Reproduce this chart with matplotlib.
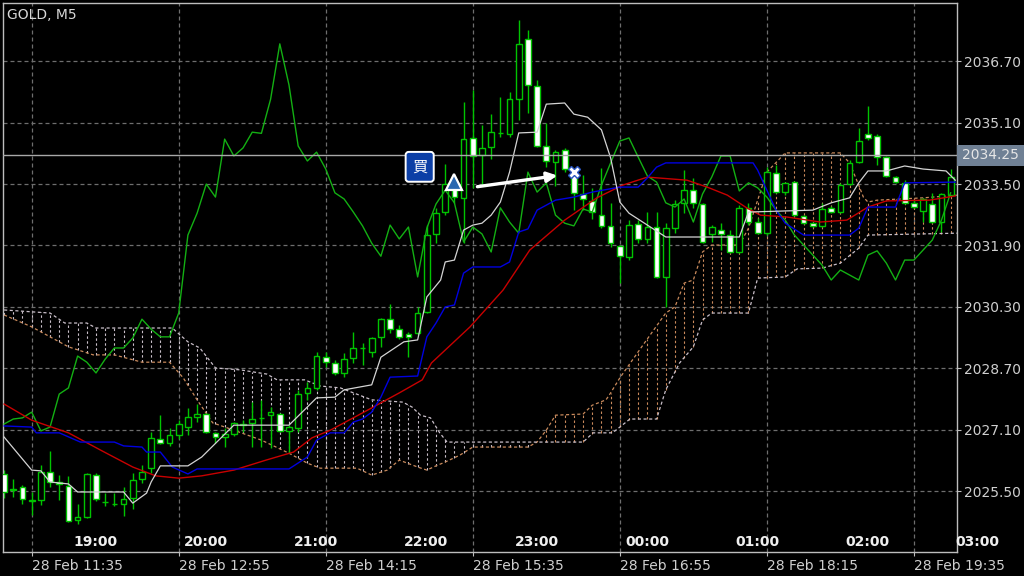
import numpy as np
import matplotlib
matplotlib.use("Agg")
import matplotlib.pyplot as plt
import matplotlib.transforms as mtransforms
from matplotlib.patches import Rectangle

# GOLD M5 candles, 28 Feb 11:20 .. 19:55 (server time), one entry per bar
opens = [2025.95, 2025.53, 2025.61, 2025.24, 2025.27, 2026.00, 2025.73, 2025.64, 2024.75, 2024.83,
         2025.92, 2025.23, 2025.16, 2025.17, 2025.32, 2025.82, 2026.10, 2026.86, 2026.76, 2026.96,
         2027.17, 2027.43, 2027.51, 2027.02, 2026.91, 2026.99, 2027.22, 2027.28, 2027.40, 2027.48,
         2027.51, 2027.07, 2027.15, 2028.06, 2028.19, 2028.99, 2028.84, 2028.58, 2028.97, 2029.22,
         2029.13, 2029.52, 2029.98, 2029.72, 2029.59, 2029.62, 2030.17, 2032.20, 2032.77, 2033.40,
         2033.14, 2034.70, 2034.26, 2034.46, 2034.84, 2034.80, 2035.71, 2037.28, 2036.05, 2034.49,
         2034.07, 2034.39, 2033.73, 2033.24, 2033.06, 2032.69, 2032.41, 2031.89, 2031.60, 2032.46,
         2032.07, 2032.38, 2031.08, 2032.35, 2033.01, 2033.34, 2032.98, 2032.20, 2032.30, 2032.17,
         2031.73, 2032.88, 2032.51, 2032.22, 2033.79, 2033.29, 2033.55, 2032.67, 2032.48, 2032.41,
         2032.88, 2032.77, 2033.50, 2034.07, 2034.80, 2034.75, 2034.20, 2033.68, 2033.53, 2033.01,
         2032.80, 2032.98, 2032.51, 2033.21]
highs = [2026.05, 2025.82, 2025.66, 2025.48, 2026.18, 2026.55, 2025.92, 2025.90, 2025.17, 2025.97,
         2025.97, 2025.45, 2025.45, 2025.61, 2025.97, 2026.18, 2027.04, 2027.48, 2027.15, 2027.35,
         2027.67, 2027.77, 2027.54, 2027.04, 2027.15, 2027.30, 2027.35, 2027.82, 2027.88, 2027.69,
         2027.54, 2027.22, 2028.14, 2028.34, 2029.13, 2029.13, 2028.92, 2029.10, 2029.65, 2029.36,
         2029.52, 2030.01, 2030.38, 2029.83, 2029.65, 2030.30, 2032.43, 2032.88, 2034.02, 2033.47,
         2035.64, 2035.95, 2035.04, 2035.32, 2035.77, 2035.90, 2037.77, 2037.51, 2036.21, 2035.09,
         2034.39, 2034.44, 2033.86, 2033.73, 2033.40, 2033.92, 2033.01, 2031.91, 2032.56, 2032.56,
         2032.77, 2032.77, 2032.48, 2033.08, 2033.86, 2033.66, 2033.01, 2032.43, 2032.48, 2032.30,
         2032.95, 2033.01, 2032.61, 2033.94, 2034.00, 2033.55, 2033.58, 2032.69, 2032.51, 2033.01,
         2032.93, 2033.53, 2034.13, 2034.96, 2035.53, 2034.80, 2034.23, 2033.71, 2033.60, 2033.08,
         2033.14, 2033.27, 2033.27, 2033.89]
lows = [2025.32, 2025.35, 2025.17, 2024.88, 2025.14, 2025.61, 2025.27, 2024.70, 2024.65, 2024.80,
        2025.24, 2025.11, 2025.11, 2024.85, 2025.04, 2025.71, 2025.97, 2026.73, 2026.68, 2026.86,
        2026.96, 2027.30, 2027.02, 2026.76, 2026.65, 2026.94, 2027.04, 2026.65, 2026.65, 2026.62,
        2027.04, 2026.49, 2027.04, 2027.88, 2028.14, 2028.73, 2028.53, 2028.47, 2028.84, 2028.79,
        2028.99, 2029.26, 2029.62, 2029.46, 2028.99, 2029.57, 2030.14, 2031.96, 2032.69, 2033.01,
        2031.96, 2033.40, 2033.47, 2034.15, 2034.72, 2034.72, 2035.17, 2035.35, 2034.46, 2033.94,
        2033.45, 2033.81, 2032.82, 2032.82, 2032.59, 2032.35, 2031.86, 2030.92, 2031.52, 2031.96,
        2031.96, 2031.05, 2030.30, 2032.22, 2032.74, 2032.88, 2031.96, 2031.99, 2031.78, 2031.70,
        2031.70, 2032.43, 2032.20, 2032.17, 2033.27, 2033.21, 2032.67, 2032.46, 2032.38, 2032.38,
        2032.74, 2032.74, 2033.47, 2034.05, 2034.65, 2034.00, 2033.68, 2033.53, 2032.99, 2032.88,
        2032.51, 2032.48, 2032.25, 2033.19]
closes = [2025.48, 2025.56, 2025.30, 2025.27, 2026.00, 2025.74, 2025.69, 2024.72, 2024.83, 2025.95,
          2025.30, 2025.21, 2025.18, 2025.30, 2025.79, 2026.00, 2026.89, 2026.76, 2026.96, 2027.25,
          2027.43, 2027.51, 2027.04, 2026.91, 2026.99, 2027.28, 2027.25, 2027.38, 2027.41, 2027.56,
          2027.07, 2027.17, 2028.03, 2028.19, 2029.02, 2028.86, 2028.58, 2028.94, 2029.23, 2029.23,
          2029.49, 2029.98, 2029.72, 2029.52, 2029.52, 2030.14, 2032.17, 2032.74, 2033.50, 2033.16,
          2034.67, 2034.23, 2034.44, 2034.85, 2034.82, 2035.71, 2037.15, 2036.08, 2034.49, 2034.10,
          2034.33, 2033.89, 2033.27, 2033.11, 2032.77, 2032.41, 2031.96, 2031.62, 2032.43, 2032.07,
          2032.38, 2031.08, 2032.35, 2032.98, 2033.34, 2033.01, 2031.99, 2032.38, 2032.20, 2031.73,
          2032.88, 2032.51, 2032.22, 2033.81, 2033.29, 2033.53, 2032.69, 2032.48, 2032.41, 2032.85,
          2032.77, 2033.47, 2034.05, 2034.62, 2034.70, 2034.20, 2033.71, 2033.55, 2033.01, 2032.90,
          2033.11, 2032.51, 2033.24, 2033.68]

# chikou span = close 26 bars later; the last 26 come from bars right of the window
chikou_tail = [2034.23, 2034.23, 2033.32, 2033.53, 2033.40, 2033.16, 2032.82, 2032.56, 2032.17, 2031.91,
               2031.65, 2031.39, 2031.00, 2031.26, 2031.13, 2031.00, 2031.65, 2031.76, 2031.44, 2031.00,
               2031.52, 2031.52, 2031.78, 2032.04, 2032.56, 2033.27]

# tenkan (white)
tenkan_bars = [0, 3, 4, 5, 7, 8, 13, 14, 15.5, 16, 17, 20, 21.5, 25, 31, 34, 36, 37, 40, 41, 43.5, 45,
               46, 47.5, 48, 49, 50, 51, 52, 53, 54, 55, 56, 58, 59, 61, 62, 63.5, 65, 66, 67, 68, 70,
               72, 80, 81, 88, 90, 92, 93, 94, 96, 98, 100, 102.5, 103.5]
tenkan_vals = [2026.91, 2026.05, 2026.03, 2025.74, 2025.69, 2025.48, 2025.48, 2025.19, 2025.45, 2025.74,
               2026.16, 2026.16, 2026.39, 2027.22, 2027.22, 2027.93, 2027.95, 2028.14, 2028.27, 2028.99,
               2029.39, 2029.44, 2030.56, 2031.00, 2031.47, 2031.52, 2032.30, 2032.43, 2032.48, 2032.69,
               2033.03, 2033.81, 2034.83, 2034.85, 2035.58, 2035.61, 2035.32, 2035.24, 2034.91, 2034.18,
               2033.03, 2032.74, 2032.43, 2032.12, 2032.12, 2032.77, 2032.82, 2033.01, 2033.14, 2033.53,
               2033.84, 2033.84, 2033.97, 2033.89, 2033.84, 2033.60]

# kijun (blue)
kijun_bars = [0, 3, 3.5, 6, 8.3, 12, 13, 15, 15.5, 17, 18.3, 20, 21, 31, 33, 34, 35.5, 37, 38, 39, 40,
              41, 42, 45, 46, 47, 48, 49, 50, 51, 54, 55, 56, 57, 58, 60, 62, 64, 67, 69, 70, 71, 72,
              81.5, 82, 83, 84, 85, 87, 92, 93, 94, 97, 98, 103.5]
kijun_vals = [2027.20, 2027.17, 2027.02, 2027.02, 2026.78, 2026.78, 2026.68, 2026.65, 2026.52, 2026.52,
              2026.13, 2025.95, 2026.08, 2026.08, 2026.39, 2026.83, 2027.02, 2027.02, 2027.30, 2027.38,
              2027.56, 2027.95, 2028.47, 2028.50, 2029.52, 2029.88, 2030.30, 2030.35, 2031.18, 2031.34,
              2031.34, 2031.47, 2032.25, 2032.33, 2032.82, 2033.08, 2033.16, 2033.29, 2033.42, 2033.42,
              2033.66, 2033.94, 2034.05, 2034.05, 2033.86, 2033.34, 2032.82, 2032.48, 2032.17, 2032.17,
              2032.35, 2032.90, 2032.90, 2033.53, 2033.55]

# moving average (red)
ma_bars = [0, 3, 7, 10.5, 14, 16.5, 19, 21.5, 25, 28.5, 31.5, 33.5, 35.5, 39, 43, 45.5, 46.5, 50.7,
           54.3, 57.2, 61, 64.5, 67.3, 70, 74.3, 76.5, 78.7, 80.8, 82.3, 85.2, 88.8, 91.7, 94, 96,
           100.7, 103.5]
ma_vals = [2027.77, 2027.35, 2027.02, 2026.57, 2026.13, 2025.90, 2025.84, 2025.90, 2026.05, 2026.31,
           2026.52, 2026.89, 2027.09, 2027.54, 2028.06, 2028.40, 2028.84, 2029.78, 2030.74, 2031.78,
           2032.56, 2033.14, 2033.47, 2033.68, 2033.60, 2033.42, 2033.21, 2032.88, 2032.69, 2032.64,
           2032.51, 2032.56, 2032.90, 2033.06, 2033.08, 2033.19]

# senkou span A (sandy brown) and span B (thistle)
span_a_bars = [0, 3, 5, 7, 9.7, 12, 15, 18, 19.5, 21, 22.7, 25, 28, 31, 33, 34.4, 38.4, 40, 41.7, 43,
               45, 46, 47, 48, 49.6, 51, 57, 58, 59, 60, 63, 64, 65.5, 66, 67, 69.5, 72, 73, 74, 75,
               76, 77, 80, 81, 82, 83, 85, 91, 92, 93, 93.5, 94, 95, 100, 103.7]
span_a_vals = [2030.09, 2029.78, 2029.52, 2029.26, 2029.05, 2029.05, 2028.86, 2028.86, 2028.45, 2027.88,
               2027.28, 2027.09, 2026.83, 2026.49, 2026.23, 2026.10, 2026.10, 2025.92, 2026.05, 2026.31,
               2026.13, 2026.05, 2026.16, 2026.26, 2026.44, 2026.65, 2026.65, 2026.78, 2027.09, 2027.48,
               2027.51, 2027.74, 2027.88, 2028.06, 2028.45, 2029.30, 2030.14, 2030.30, 2030.92, 2031.00,
               2031.73, 2031.91, 2031.91, 2032.35, 2033.08, 2033.81, 2034.31, 2034.31, 2034.05, 2033.47,
               2033.16, 2033.03, 2033.08, 2033.14, 2033.21]
span_b_bars = [0, 5, 6.6, 9, 10, 18.3, 20, 21.3, 23, 25.7, 28.6, 29.7, 32.7, 34.4, 36.6, 40, 43.4, 44.4,
               45.3, 46.4, 47.4, 48.2, 63, 64.1, 66.2, 67, 68.1, 71, 72, 73.5, 75, 76, 77, 81, 82, 85,
               86.3, 89, 91, 93, 94, 103.7]
span_b_vals = [2030.22, 2030.14, 2029.88, 2029.88, 2029.75, 2029.75, 2029.39, 2029.23, 2028.71, 2028.66,
               2028.55, 2028.40, 2028.40, 2028.24, 2028.19, 2027.88, 2027.82, 2027.69, 2027.48, 2027.41,
               2027.02, 2026.78, 2026.78, 2027.02, 2027.02, 2027.17, 2027.38, 2027.38, 2028.14, 2028.84,
               2029.26, 2029.96, 2030.14, 2030.14, 2031.05, 2031.08, 2031.29, 2031.31, 2031.44, 2031.83,
               2032.17, 2032.22]

# axis labels
price_ticks = [2036.70, 2035.10, 2033.50, 2031.90, 2030.30, 2028.70, 2027.10, 2025.50]
date_bars = [3, 19, 35, 51, 67, 83, 99]
date_labels = ["28 Feb 11:35", "28 Feb 12:55", "28 Feb 14:15", "28 Feb 15:35",
               "28 Feb 16:55", "28 Feb 18:15", "28 Feb 19:35"]
local_bars = [8, 20, 32, 44, 56, 68, 80, 92, 104]
local_labels = ["19:00", "20:00", "21:00", "22:00", "23:00", "00:00", "01:00", "02:00", "03:00"]

bid_price = 2034.25
entry_bar, entry_price = 49, 2033.55
exit_bar, exit_price = 62, 2033.81

o = np.array(opens); h = np.array(highs); l = np.array(lows); c = np.array(closes)
x = np.arange(len(c))
chikou = np.concatenate([c[26:], chikou_tail])

green = "#00c400"
brown = "#c98a5c"
thistle = "#c9bfc9"
txt = "#cfcfcf"

fig = plt.figure(figsize=(10.24, 5.76), dpi=100, facecolor="black")
ax = fig.add_axes([3 / 1024, 24 / 576, 954 / 1024, 549 / 576])
ax.set_facecolor("black")
ax.set_xlim(-0.12, 103.69)
ax.set_ylim(2023.917, 2038.214)

# grid
for p in price_ticks:
    ax.axhline(p, color="#6e6e6e", lw=0.9, ls=(0, (3.2, 2.4)), zorder=0)
for b in date_bars:
    ax.axvline(b, color="#6e6e6e", lw=0.9, ls=(0, (3.2, 2.4)), zorder=0)

# kumo hatching
sa = np.interp(x, span_a_bars, span_a_vals)
sb = np.interp(x, span_b_bars, span_b_vals)
hatch_cols = [brown if a >= b else thistle for a, b in zip(sa, sb)]
ax.vlines(x, np.minimum(sa, sb), np.maximum(sa, sb), colors=hatch_cols,
          lw=0.8, linestyles=(0, (2.2, 2.2)), zorder=1)
ax.plot(span_a_bars, span_a_vals, color=brown, lw=0.9, ls=(0, (2.5, 2)), zorder=1)
ax.plot(span_b_bars, span_b_vals, color=thistle, lw=0.9, ls=(0, (2.5, 2)), zorder=1)

# candles
ax.vlines(x, l, h, color=green, lw=1.0, zorder=2)
bear = c < o
body_lo = np.minimum(o, c)
body_h = np.maximum(np.abs(c - o), 0.012)
ax.bar(x, body_h, bottom=body_lo, width=0.62, color=np.where(bear, "white", "black"),
       edgecolor=green, linewidth=1.0, zorder=3)

# indicator lines
ax.plot(x, chikou, color="#13b013", lw=1.0, zorder=4)
ax.plot(ma_bars, ma_vals, color="#c80000", lw=1.0, zorder=4)
ax.plot(kijun_bars, kijun_vals, color="#0000e0", lw=1.0, zorder=4)
ax.plot(tenkan_bars, tenkan_vals, color="#d4d4d4", lw=0.9, zorder=4)

# bid line with its price box on the scale
ax.axhline(bid_price, color="#a8a8a8", lw=1.0, zorder=4)
trans = mtransforms.blended_transform_factory(ax.transAxes, ax.transData)
ax.add_patch(Rectangle((1.0, bid_price - 0.27), 1021 / 954 - 1.0, 0.54, transform=trans,
                       fc="#6f8094", ec="none", clip_on=False, zorder=5))
ax.text(1.0053, bid_price, "2034.25", transform=trans, ha="left", va="center",
        fontsize=10, color="#e6e6e6", zorder=6, clip_on=False)

# trade marks
ax.plot(entry_bar, entry_price, marker="^", ms=11, mfc="#2a67b0", mec="white", mew=1.6, zorder=6)
ax.plot(exit_bar, exit_price, marker="X", ms=9, mfc="white", mec="#2a55c0", mew=1.0, zorder=6)
ax.annotate("", xy=(exit_bar - 1.5, exit_price - 0.08), xytext=(entry_bar + 2.2, entry_price - 0.13),
            arrowprops=dict(arrowstyle="-|>,head_length=0.6,head_width=0.3", color="white", lw=2.4),
            zorder=6)
ax.annotate("買", xy=(entry_bar, entry_price), xytext=(-25, 11), textcoords="offset points",
            ha="center", va="center", fontsize=11, color="white",
            family=["Noto Sans CJK JP", "DejaVu Sans"], zorder=7,
            bbox=dict(boxstyle="round,pad=0.42,rounding_size=0.2", fc="#0c3fa6", ec="white", lw=1.4))

# local-time labels inside the chart
for b, s in zip(local_bars, local_labels):
    ax.text(b - 0.45, 0.018, s, transform=mtransforms.blended_transform_factory(ax.transData, ax.transAxes),
            ha="left", va="center", fontsize=10, color="#efefef", fontweight="bold", clip_on=False)

# axes styling
for sp in ax.spines.values():
    sp.set_color("#bdbdbd")
    sp.set_linewidth(1.0)
ax.yaxis.tick_right()
ax.set_yticks(price_ticks)
ax.set_yticklabels(["%.2f" % p for p in price_ticks])
ax.set_xticks(date_bars)
ax.set_xticklabels(date_labels)
for lab in ax.get_xticklabels():
    lab.set_ha("left")
ax.tick_params(colors=txt, labelsize=10, length=3, width=0.8, direction="out", pad=2)
ax.tick_params(axis="y", colors="#bdbdbd", labelcolor=txt)
ax.tick_params(axis="x", colors="#bdbdbd", labelcolor=txt)

fig.text(7 / 1024, 1 - 15 / 576, "GOLD, M5", ha="left", va="center", fontsize=10, color="#d8d8d8")

fig.savefig("out.png", dpi=100, facecolor="black")
